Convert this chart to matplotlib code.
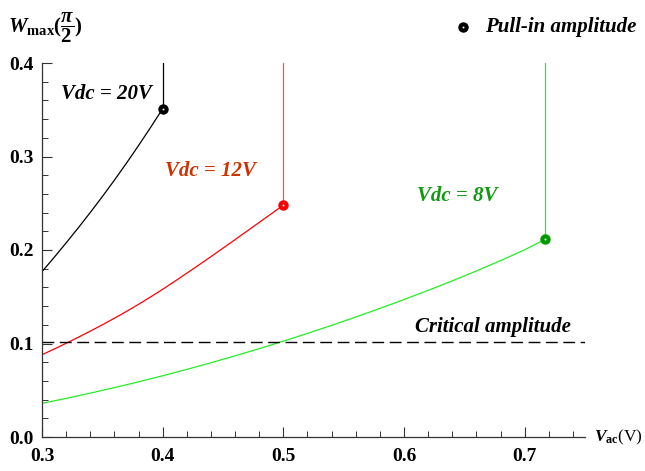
import matplotlib
matplotlib.use("Agg")
import matplotlib.pyplot as plt
from matplotlib.ticker import MultipleLocator, FixedLocator

plt.rcParams['mathtext.fontset'] = 'custom'
plt.rcParams['mathtext.rm'] = 'Liberation Serif:bold'
plt.rcParams['mathtext.it'] = 'Liberation Serif:italic:bold'
plt.rcParams['mathtext.bf'] = 'Liberation Serif:bold'
plt.rcParams['font.family'] = ['Liberation Serif', 'DejaVu Serif']

# data
x20 = [0.30, 0.31, 0.32, 0.33, 0.34, 0.35, 0.36, 0.37, 0.38, 0.39, 0.40]
y20 = [0.1768, 0.1920, 0.2076, 0.2236, 0.2401, 0.2571, 0.2747, 0.2929, 0.3117,
       0.3311, 0.3511]
x12 = [0.30, 0.31, 0.32, 0.33, 0.34, 0.35, 0.36, 0.37, 0.38, 0.39, 0.40,
       0.41, 0.42, 0.43, 0.44, 0.45, 0.46, 0.47, 0.48, 0.49, 0.50]
y12 = [0.0880, 0.0940, 0.1002, 0.1066, 0.1132, 0.1200, 0.1270, 0.1343, 0.1419,
       0.1498, 0.1580, 0.1665, 0.1752, 0.1840, 0.1929, 0.2020, 0.2111, 0.2203,
       0.2295, 0.2387, 0.2480]
x8 = [0.30, 0.32, 0.34, 0.36, 0.38, 0.40, 0.42, 0.44, 0.46, 0.48, 0.50,
      0.52, 0.54, 0.56, 0.58, 0.60, 0.62, 0.64, 0.66, 0.68, 0.70, 0.717]
y8 = [0.0360, 0.0413, 0.0469, 0.0528, 0.0590, 0.0655, 0.0723, 0.0794, 0.0868,
      0.0945, 0.1025, 0.1108, 0.1194, 0.1283, 0.1375, 0.1470, 0.1568, 0.1670,
      0.1776, 0.1886, 0.2002, 0.2115]
pullin_x = [0.40, 0.50, 0.717]
pullin_y = [0.3511, 0.2480, 0.2115]
critical = 0.102
xticks = [0.3, 0.4, 0.5, 0.6, 0.7]
yticks = [0.0, 0.1, 0.2, 0.3, 0.4]

fig = plt.figure(figsize=(6.45, 4.71), dpi=100)
ax = fig.add_axes([42/645, 1-437/471, (585-42)/645, (437-63)/471])
ax.set_xlim(0.3, 0.75)
ax.set_ylim(0.0, 0.4)
for s in ['top', 'right']:
    ax.spines[s].set_visible(False)
for s in ['left', 'bottom']:
    ax.spines[s].set_linewidth(0.9)
    ax.spines[s].set_color('#333333')

lw = 0.9
ax.plot(x20, y20, color='black', lw=lw)
ax.plot([pullin_x[0], pullin_x[0]], [pullin_y[0], 0.4], color='black', lw=lw)
ax.plot(x12, y12, color='#ff0000', lw=lw)
ax.plot([pullin_x[1], pullin_x[1]], [pullin_y[1], 0.4], color='#ff5050', lw=lw)
ax.plot(x8, y8, color='#22ee22', lw=lw)
ax.plot([pullin_x[2], pullin_x[2]], [pullin_y[2], 0.4], color='#22ee22', lw=lw)
ax.plot([0.3, 0.75], [critical, critical], color='black', lw=1.0, dashes=(8.5, 4))

mcolors = ['black', '#ff0000', '#009900']
for px, py, c in zip(pullin_x, pullin_y, mcolors):
    ax.plot(px, py, 'o', color=c, ms=7.5, mew=0, zorder=5, clip_on=False)
    ax.plot(px, py, 'o', color='white', ms=1.4, mew=0, zorder=6, clip_on=False)

ax.text(0.316, 0.367, 'Vdc = 20V', fontsize=15, fontweight='bold', style='italic',
        color='black', va='center', ha='left')
ax.text(0.402, 0.284, 'Vdc = 12V', fontsize=15, fontweight='bold', style='italic',
        color='#cc3300', va='center', ha='left')
ax.text(0.611, 0.2578, 'Vdc = 8V', fontsize=15, fontweight='bold', style='italic',
        color='#119911', va='center', ha='left')
ax.text(0.609, (437-327)/935, 'Critical amplitude', fontsize=15, fontweight='bold',
        style='italic', color='black', va='center', ha='left')

# legend
fig.text(485/645, 1-27/471, 'Pull-in amplitude', fontsize=15, fontweight='bold',
         style='italic', va='center', ha='left')
fig.lines.append(plt.Line2D([463/645], [1-27/471], marker='o', color='black', ms=7.5, mew=0,
                            transform=fig.transFigure, figure=fig))
fig.lines.append(plt.Line2D([463/645], [1-27/471], marker='o', color='white', ms=1.4, mew=0,
                            transform=fig.transFigure, figure=fig))

# axis labels
fig.text(8/645, 1-28/471, r'$W_{\rm max}(\dfrac{\pi}{2})$', fontsize=15,
         va='center', ha='left')
fig.text(594/645, 1-437/471, r'$V_{\rm ac}$(V)', fontsize=12.5, va='center', ha='left')

ax.xaxis.set_major_locator(FixedLocator(xticks))
ax.yaxis.set_major_locator(FixedLocator(yticks))
ax.xaxis.set_minor_locator(MultipleLocator(0.02))
ax.yaxis.set_minor_locator(MultipleLocator(0.02))
ax.set_xticklabels([f'{v:.1f}' for v in xticks])
ax.set_yticklabels([f'{v:.1f}' for v in yticks])
ax.tick_params(which='major', direction='in', length=7, width=0.8, labelsize=14,
               color='#333333')
ax.tick_params(which='minor', direction='in', length=4, width=0.7, color='#333333')
ax.tick_params(axis='x', which='major', pad=8)
ax.tick_params(axis='y', which='major', pad=6)
for lab in ax.get_xticklabels() + ax.get_yticklabels():
    lab.set_fontweight('bold')

fig.savefig('out.png', dpi=100)
